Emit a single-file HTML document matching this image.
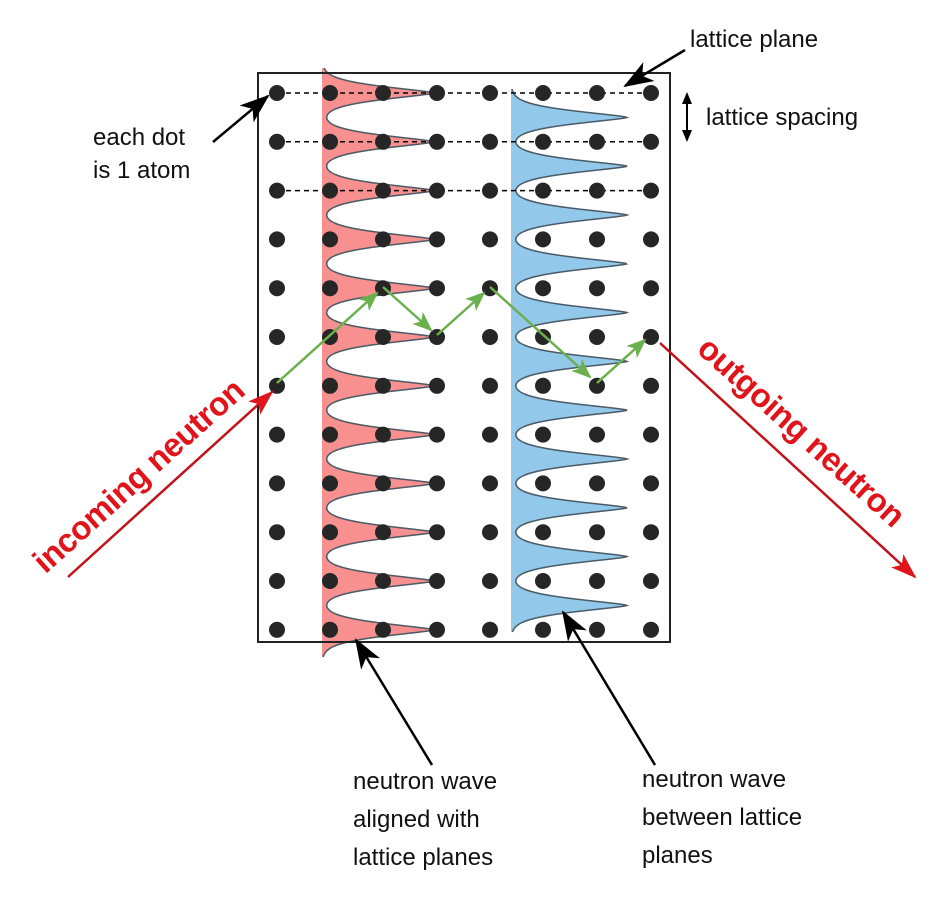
<!DOCTYPE html>
<html><head><meta charset="utf-8"><style>
html,body{margin:0;padding:0;background:#fff;}
svg{display:block;}
text{font-family:"Liberation Sans",Arial,sans-serif;}
</style></head><body>
<svg id="s" width="943" height="900" viewBox="0 0 943 900" xmlns="http://www.w3.org/2000/svg">
<defs>
<marker id="ag" markerWidth="20" markerHeight="16" refX="18" refY="8" orient="auto" markerUnits="userSpaceOnUse"><path d="M0,0 L20,8 L0,16 L5,8 Z" fill="#6ab04c"/></marker>
<marker id="ar" markerWidth="26" markerHeight="18" refX="24" refY="9" orient="auto" markerUnits="userSpaceOnUse"><path d="M0,0 L26,9 L0,18 L6,9 Z" fill="#e0141a"/></marker>
<marker id="ak" markerWidth="30" markerHeight="22" refX="28" refY="11" orient="auto" markerUnits="userSpaceOnUse"><path d="M0,0 L30,11 L0,22 L8,11 Z" fill="#000"/></marker>
</defs>
<g id="waves"></g>
<rect x="258" y="73" width="412" height="569" fill="none" stroke="#222" stroke-width="2"/>
<g id="dash" stroke="#000" stroke-width="1.5" stroke-dasharray="5,4"></g>
<g id="dots" fill="#262626"></g>
<g stroke="#6ab04c" stroke-width="2.5" fill="none">
<line x1="277" y1="383" x2="377" y2="293" marker-end="url(#ag)"/>
<line x1="383" y1="287" x2="431" y2="330" marker-end="url(#ag)"/>
<line x1="437" y1="335" x2="484" y2="293" marker-end="url(#ag)"/>
<line x1="490" y1="287" x2="590" y2="377" marker-end="url(#ag)"/>
<line x1="597" y1="383" x2="645" y2="340" marker-end="url(#ag)"/>
</g>
<line x1="68" y1="577" x2="272" y2="392" stroke="#c0141a" stroke-width="2.5" marker-end="url(#ar)"/>
<line x1="660" y1="343" x2="915" y2="577" stroke="#c0141a" stroke-width="2.5" marker-end="url(#ar)"/>
<text transform="translate(146,484) rotate(-42)" text-anchor="middle" font-size="33" font-weight="bold" fill="#e0141a" letter-spacing="-0.5">incoming neutron</text>
<text transform="translate(794,440) rotate(42)" text-anchor="middle" font-size="33" font-weight="bold" fill="#e0141a" letter-spacing="-0.5">outgoing neutron</text>
<g stroke="#000" stroke-width="2.5">
<line x1="213" y1="142" x2="268" y2="96" marker-end="url(#ak)"/>
<line x1="685" y1="50" x2="625" y2="86" marker-end="url(#ak)"/>
<line x1="432" y1="765" x2="356" y2="640" marker-end="url(#ak)"/>
<line x1="655" y1="765" x2="563" y2="612" marker-end="url(#ak)"/>
<line x1="687" y1="98" x2="687" y2="136" stroke-width="2"/>
</g>
<path d="M687,92 L682,104 L692,104 Z M687,142 L682,130 L692,130 Z" fill="#000"/>
<g font-size="24" fill="#111">
<text x="690" y="47">lattice plane</text>
<text x="706" y="125">lattice spacing</text>
<text x="93" y="145">each dot</text>
<text x="93" y="178">is 1 atom</text>
<text x="353" y="789">neutron wave</text>
<text x="353" y="827">aligned with</text>
<text x="353" y="865">lattice planes</text>
<text x="642" y="787">neutron wave</text>
<text x="642" y="825">between lattice</text>
<text x="642" y="863">planes</text>
</g>
</svg>
<script>
var NS="http://www.w3.org/2000/svg";
var xs=[277,330,383,437,490,543,597,651],ys=[];
for(var i=0;i<12;i++)ys.push(93+i*48.8);
var d=document.getElementById("dots");
ys.forEach(function(y){xs.forEach(function(x){var c=document.createElementNS(NS,"circle");c.setAttribute("cx",x);c.setAttribute("cy",y);c.setAttribute("r",8);d.appendChild(c);});});
var g=document.getElementById("dash");
for(var i=0;i<3;i++){var l=document.createElementNS(NS,"line");l.setAttribute("x1",277);l.setAttribute("x2",651);l.setAttribute("y1",ys[i]);l.setAttribute("y2",ys[i]);g.appendChild(l);}
function wave(base,amp,peaks,y0,y1,fill){
 var pts=[],s="";
 for(var y=y0;y<=y1;y+=0.5){var v=0;peaks.forEach(function(p){var t=Math.abs(y-p)/9.3;v+=Math.exp(-Math.pow(t,1.4));});pts.push([base+amp*Math.min(v,1),y]);}
 s="M"+base+","+y0;pts.forEach(function(p){s+=" L"+p[0].toFixed(1)+","+p[1];});s+=" L"+base+","+y1+" Z";
 var f=document.createElementNS(NS,"path");f.setAttribute("d",s);f.setAttribute("fill",fill);
 document.getElementById("waves").appendChild(f);
 var c="M"+pts[0][0].toFixed(1)+","+pts[0][1];pts.forEach(function(p){c+=" L"+p[0].toFixed(1)+","+p[1];});
 var o=document.createElementNS(NS,"path");o.setAttribute("d",c);o.setAttribute("fill","none");o.setAttribute("stroke","#4a5a66");o.setAttribute("stroke-width","1.5");
 document.getElementById("waves").appendChild(o);
}
wave(322,112,ys,68,657,"#f7908f");
var mids=[];for(var i=0;i<11;i++)mids.push((ys[i]+ys[i+1])/2);
wave(511,116,mids,89,632,"#92c9ea");
</script>
</body></html>
